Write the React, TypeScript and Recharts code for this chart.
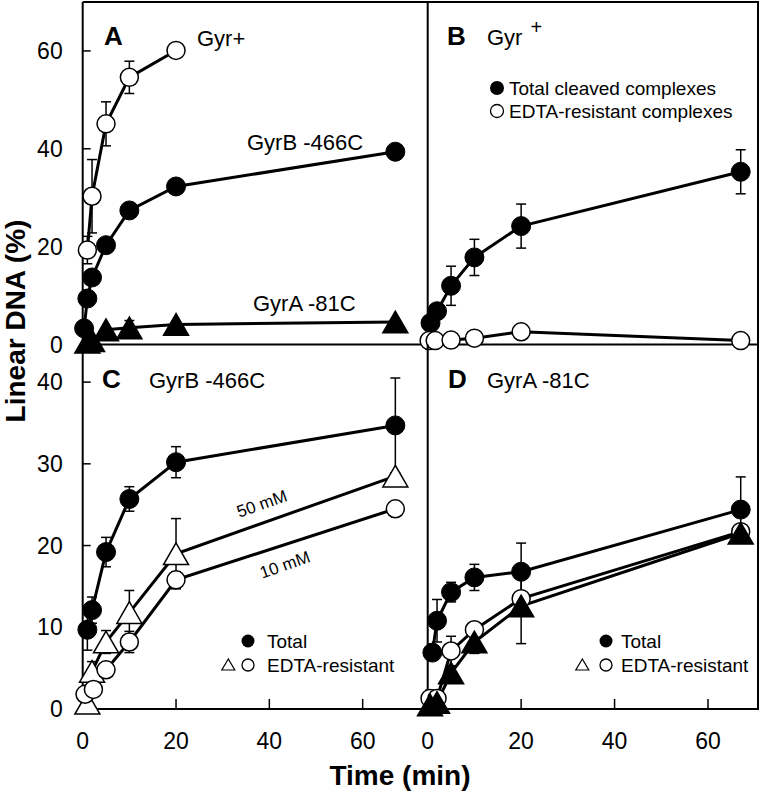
import React from "react";
import { LineChart, Line, XAxis, YAxis, ErrorBar } from "recharts";

// Panel A – Gyr+, GyrB -466C, GyrA -81C
const aGyrT = [1, 2, 5, 10, 20];
const aGyrV = [19.3, 30.3, 45.1, 54.6, 60.1];
const aGyrE = [2.8, 7.5, 4.5, 3.3, 0];
const aGyrBT = [0.3, 1, 2, 5, 10, 20, 67];
const aGyrBV = [3.3, 9.4, 13.7, 20.3, 27.4, 32.3, 39.4];
const aGyrAT = [1, 2, 5, 10, 20, 67];
const aGyrAV = [0.5, 0.8, 3.0, 3.4, 4.1, 4.6];
const aGyrAE = [0, 0, 0, 1.5, 0, 0];

// Panel B – Gyr+ total vs EDTA-resistant
const bTotT = [0.6, 2, 5, 10, 20, 67];
const bTotV = [4.4, 6.8, 12.0, 17.8, 24.2, 35.3];
const bTotE = [0, 0, 4, 3.7, 4.5, 4.5];
const bResT = [0.3, 1.6, 5, 10, 20, 67];
const bResV = [0.8, 0.8, 0.9, 1.3, 2.6, 0.8];
const bResE = [0, 0, 0, 0, 0.5, 0];

// Panel C – GyrB -466C
const cTotT = [1, 2, 5, 10, 20, 67];
const cTotV = [9.7, 12.1, 19.2, 25.7, 30.2, 34.7];
const cTotE = [2.5, 1.6, 1.8, 1.5, 1.9, 5.8];
const c50T = [1, 2, 5, 10, 20, 67];
const c50V = [0.7, 4.6, 8.2, 11.8, 19.0, 28.5];
const c50E = [0, 1.2, 1.4, 2.7, 4.3, 0];
const c10T = [0.5, 2.3, 5, 10, 20, 67];
const c10V = [1.8, 2.4, 4.8, 8.2, 15.8, 24.5];
const c10E = [0, 0, 0, 1.3, 1, 0];

// Panel D – GyrA -81C
const dTotT = [1, 2, 5, 10, 20, 67];
const dTotV = [6.9, 10.8, 14.3, 16.1, 16.8, 24.4];
const dTotE = [0, 2.6, 1.2, 1.6, 3.5, 4.0];
const dResT = [0.5, 2, 5, 10, 20, 67];
const dResV = [1.3, 1.3, 7.1, 9.7, 13.5, 21.7];
const dResE = [1, 0, 1.8, 0, 0, 0];
const dTriT = [0.5, 2, 5, 10, 20, 67];
const dTriV = [0.5, 0.8, 4.4, 8.2, 12.6, 21.5];
const dTriE = [0, 0, 0, 1.4, 4.6, 0];

const xTicks = [0, 20, 40, 60];
const yTicksAB = [0, 20, 40, 60];
const yTicksCD = [0, 10, 20, 30, 40];

const FONT = "'Liberation Sans', Arial, Helvetica, sans-serif";
const W = 760;
const H = 793;

type Pt = { t: number; v: number; e: number };
const pts = (t: number[], v: number[], e?: number[]): Pt[] =>
  t.map((x, i) => ({ t: x, v: v[i], e: e ? e[i] : 0 }));

type Shape = "filled" | "open" | "tri" | "otri";
type Series = { name: string; data: Pt[]; shape: Shape };

const triDot = (fill: string, s: number) => (p: any) => {
  const { cx, cy, index } = p;
  if (cx == null || cy == null) return <g key={index} />;
  const h = s * 0.866;
  return (
    <polygon
      key={index}
      points={`${cx},${cy - h / 2} ${cx - s / 2},${cy + h / 2} ${cx + s / 2},${cy + h / 2}`}
      fill={fill}
      stroke="#000"
      strokeWidth={1.5}
    />
  );
};

function dotFor(shape: Shape): any {
  if (shape === "filled") return { r: 9.5, fill: "#000", stroke: "#000", strokeWidth: 1 };
  if (shape === "open") return { r: 9, fill: "#fff", stroke: "#000", strokeWidth: 1.5 };
  if (shape === "tri") return triDot("#000", 25);
  return triDot("#fff", 25);
}

function Panel({
  box,
  xMax,
  yMax,
  yTicks,
  xLabels,
  yLabels,
  series,
}: {
  box: [number, number, number, number];
  xMax: number;
  yMax: number;
  yTicks: number[];
  xLabels: boolean;
  yLabels: boolean;
  series: Series[];
}) {
  const [x0, y0, x1, y1] = box;
  const yw = 60;
  const xh = 50;
  const tickStyle = { fontSize: 23, fill: "#000", fontFamily: FONT };
  return (
    <div style={{ position: "absolute", left: 0, top: 0 }}>
      <LineChart
        width={W}
        height={H}
        margin={{ left: x0 - yw, top: y0, right: W - x1, bottom: H - y1 - xh }}
      >
        <XAxis
          type="number"
          dataKey="t"
          domain={[0, xMax]}
          ticks={xTicks}
          height={xh}
          tickSize={-10}
          tickMargin={34}
          tick={xLabels ? tickStyle : false}
          axisLine={{ stroke: "#000", strokeWidth: 2 }}
          tickLine={{ stroke: "#000", strokeWidth: 1.5 }}
          allowDuplicatedCategory={false}
        />
        <YAxis
          type="number"
          domain={[0, yMax]}
          ticks={yTicks}
          width={yw}
          tickSize={-8}
          tickMargin={28}
          tick={yLabels ? tickStyle : false}
          axisLine={{ stroke: "#000", strokeWidth: 2 }}
          tickLine={{ stroke: "#000", strokeWidth: 1.5 }}
        />
        {series.map((s) => (
          <Line
            key={s.name}
            name={s.name}
            data={s.data}
            dataKey="v"
            type="linear"
            stroke="#000"
            strokeWidth={3}
            dot={dotFor(s.shape)}
            activeDot={false}
            isAnimationActive={false}
          >
            <ErrorBar dataKey="e" width={5} stroke="#000" strokeWidth={1.5} direction="y" />
          </Line>
        ))}
      </LineChart>
    </div>
  );
}

export default function App() {
  const txt = { fontFamily: FONT, fill: "#000" } as const;
  return (
    <div
      style={{
        position: "absolute",
        left: 0,
        top: 0,
        width: W,
        height: H,
        background: "#fff",
        overflow: "hidden",
      }}
    >
      <Panel
        box={[82.7, 2, 428, 344.5]}
        xMax={74}
        yMax={70}
        yTicks={yTicksAB}
        xLabels={false}
        yLabels={true}
        series={[
          { name: "GyrA -81C", data: pts(aGyrAT, aGyrAV, aGyrAE), shape: "tri" },
          { name: "GyrB -466C", data: pts(aGyrBT, aGyrBV), shape: "filled" },
          { name: "Gyr+", data: pts(aGyrT, aGyrV, aGyrE), shape: "open" },
        ]}
      />
      <Panel
        box={[427.7, 2, 758, 344.5]}
        xMax={70.7}
        yMax={70}
        yTicks={yTicksAB}
        xLabels={false}
        yLabels={false}
        series={[
          { name: "Total cleaved complexes", data: pts(bTotT, bTotV, bTotE), shape: "filled" },
          { name: "EDTA-resistant complexes", data: pts(bResT, bResV, bResE), shape: "open" },
        ]}
      />
      <Panel
        box={[82.7, 344.5, 428, 709]}
        xMax={74}
        yMax={44.6}
        yTicks={yTicksCD}
        xLabels={true}
        yLabels={true}
        series={[
          { name: "Total", data: pts(cTotT, cTotV, cTotE), shape: "filled" },
          { name: "50 mM", data: pts(c50T, c50V, c50E), shape: "otri" },
          { name: "10 mM", data: pts(c10T, c10V, c10E), shape: "open" },
        ]}
      />
      <Panel
        box={[427.7, 344.5, 758, 709]}
        xMax={70.7}
        yMax={44.6}
        yTicks={yTicksCD}
        xLabels={true}
        yLabels={false}
        series={[
          { name: "Total", data: pts(dTotT, dTotV, dTotE), shape: "filled" },
          { name: "EDTA-resistant circles", data: pts(dResT, dResV, dResE), shape: "open" },
          { name: "EDTA-resistant triangles", data: pts(dTriT, dTriV, dTriE), shape: "tri" },
        ]}
      />
      <svg
        width={W}
        height={H}
        style={{ position: "absolute", left: 0, top: 0, pointerEvents: "none" }}
      >
        {/* frame top and right */}
        <line x1={82.7} y1={2} x2={759} y2={2} stroke="#000" strokeWidth={2} />
        <line x1={758} y1={2} x2={758} y2={710} stroke="#000" strokeWidth={2} />

        {/* panel A */}
        <text x={104} y={45} fontSize={26} fontWeight="bold" {...txt}>A</text>
        <text x={197} y={46} fontSize={22} {...txt}>Gyr+</text>
        <text x={247} y={150} fontSize={22} {...txt}>GyrB -466C</text>
        <text x={253} y={311} fontSize={22} {...txt}>GyrA -81C</text>

        {/* panel B */}
        <text x={447} y={45} fontSize={26} fontWeight="bold" {...txt}>B</text>
        <text x={487} y={45} fontSize={22} {...txt}>
          Gyr<tspan dx={8} dy={-11} fontSize={20}>+</tspan>
        </text>
        <circle cx={497} cy={88} r={7} fill="#000" />
        <text x={509} y={94.5} fontSize={19} {...txt}>Total cleaved complexes</text>
        <circle cx={497} cy={111} r={6.5} fill="#fff" stroke="#000" strokeWidth={1.3} />
        <text x={509} y={117.5} fontSize={19} {...txt}>EDTA-resistant complexes</text>

        {/* panel C */}
        <text x={102} y={388} fontSize={26} fontWeight="bold" {...txt}>C</text>
        <text x={149} y={388} fontSize={22} {...txt}>GyrB -466C</text>
        <text x={262} y={504} fontSize={17} textAnchor="middle" dominantBaseline="central"
          transform="rotate(-19.5 262 504)" {...txt}>50 mM</text>
        <text x={285} y={565} fontSize={17} textAnchor="middle" dominantBaseline="central"
          transform="rotate(-19.5 285 565)" {...txt}>10 mM</text>
        <circle cx={248} cy={641} r={6.5} fill="#000" />
        <text x={267} y={648} fontSize={19} {...txt}>Total</text>
        <polygon points="228.3,659 221.8,670 234.8,670" fill="#fff" stroke="#000" strokeWidth={1.2} />
        <circle cx={248} cy={665} r={6} fill="#fff" stroke="#000" strokeWidth={1.3} />
        <text x={267} y={672} fontSize={19} {...txt}>EDTA-resistant</text>

        {/* panel D */}
        <text x={448} y={388} fontSize={26} fontWeight="bold" {...txt}>D</text>
        <text x={487} y={388} fontSize={22} {...txt}>GyrA -81C</text>
        <circle cx={606} cy={641} r={6.5} fill="#000" />
        <text x={621} y={648} fontSize={19} {...txt}>Total</text>
        <polygon points="582.3,659 575.8,670 588.8,670" fill="#fff" stroke="#000" strokeWidth={1.2} />
        <circle cx={606} cy={665} r={6} fill="#fff" stroke="#000" strokeWidth={1.3} />
        <text x={621} y={672} fontSize={19} {...txt}>EDTA-resistant</text>

        {/* axis titles */}
        <text x={25} y={321} fontSize={28} fontWeight="bold" textAnchor="middle"
          transform="rotate(-90 25 321)" {...txt}>Linear DNA (%)</text>
        <text x={400} y={785} fontSize={28} fontWeight="bold" textAnchor="middle" {...txt}>
          Time (min)
        </text>
      </svg>
    </div>
  );
}
